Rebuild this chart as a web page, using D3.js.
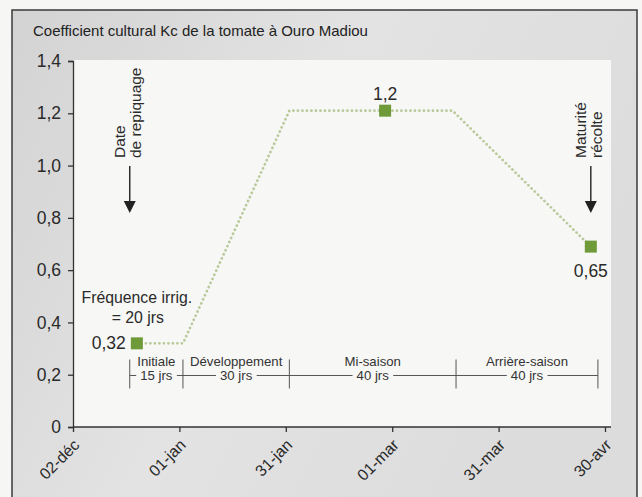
<!DOCTYPE html>
<html>
<head>
<meta charset="utf-8">
<script src="https://cdn.jsdelivr.net/npm/d3@7"></script>
<style>
  body { margin: 0; background: #f6f6f4; }
  svg { display: block; font-family: "Liberation Sans", Arial, sans-serif; }
</style>
</head>
<body>
<svg id="chart" width="642" height="497"></svg>
<script>
// Kc curve (dotted line)
const kcDates = ["2007-12-20", "2008-01-02", "2008-02-01", "2008-03-18", "2008-04-26"];
const kcValues = [0.32, 0.32, 1.21, 1.21, 0.69];

// labelled markers
const markerDates = ["2007-12-20", "2008-02-28", "2008-04-26"];
const markerValues = [0.32, 1.21, 0.69];
const markerLabels = ["0,32", "1,2", "0,65"];

// growth stages
const stageBounds = ["2007-12-18", "2008-01-02", "2008-02-01", "2008-03-19", "2008-04-28"];
const stageNames = ["Initiale", "Développement", "Mi-saison", "Arrière-saison"];
const stageDays = ["15 jrs", "30 jrs", "40 jrs", "40 jrs"];

// axes
const xTickDates = ["2007-12-02", "2008-01-01", "2008-01-31", "2008-03-01", "2008-03-31", "2008-04-30"];
const xTickLabels = ["02-déc", "01-jan", "31-jan", "01-mar", "31-mar", "30-avr"];
const yTickValues = [0, 0.2, 0.4, 0.6, 0.8, 1.0, 1.2, 1.4];
const yTickLabels = ["0", "0,2", "0,4", "0,6", "0,8", "1,0", "1,2", "1,4"];

const title = "Coefficient cultural Kc de la tomate à Ouro Madiou";

const parse = d3.utcParse("%Y-%m-%d");
const svg = d3.select("#chart");
const FONT = "'Liberation Sans', Arial, sans-serif";

var plot = {left: 73, right: 605, top: 61, bottom: 427, areaRight: 611, areaTop: 60};

// background frame
var defs = svg.append("defs");
var grad = defs.append("linearGradient").attr("id", "bg")
  .attr("x1", "0").attr("y1", "0").attr("x2", "1").attr("y2", "0.4");
grad.append("stop").attr("offset", "0").attr("stop-color", "#d3d3d3");
grad.append("stop").attr("offset", "0.5").attr("stop-color", "#e3e3e3");
grad.append("stop").attr("offset", "1").attr("stop-color", "#dcdcdc");

svg.append("rect")
  .attr("x", 12).attr("y", 10).attr("width", 625).attr("height", 495)
  .attr("fill", "url(#bg)")
  .attr("stroke", "#3a3a3a").attr("stroke-width", 1.5);

svg.append("rect")
  .attr("x", plot.left).attr("y", plot.areaTop)
  .attr("width", plot.areaRight - plot.left)
  .attr("height", plot.bottom - plot.areaTop)
  .attr("fill", "#f7f7f5");

svg.append("text")
  .attr("x", 33).attr("y", 36)
  .attr("font-size", 15).attr("fill", "#222")
  .text(title);

// scales
var x = d3.scaleUtc()
  .domain([parse(xTickDates[0]), parse(xTickDates[xTickDates.length - 1])])
  .range([plot.left, plot.right]);
var y = d3.scaleLinear().domain([0, 1.4]).range([plot.bottom, plot.top]);

// y axis
var yAxis = d3.axisLeft(y)
  .tickValues(yTickValues)
  .tickFormat((d, i) => yTickLabels[i])
  .tickSize(5).tickPadding(7);
var gy = svg.append("g")
  .attr("transform", "translate(" + plot.left + ",0)")
  .call(yAxis);
gy.selectAll("text").attr("font-size", 17.5).attr("fill", "#2a2a2a")
  .attr("font-family", FONT);

// x axis
var xAxis = d3.axisBottom(x)
  .tickValues(xTickDates.map(parse))
  .tickFormat((d, i) => xTickLabels[i])
  .tickSize(5).tickSizeOuter(0);
var gx = svg.append("g")
  .attr("transform", "translate(0," + plot.bottom + ")")
  .call(xAxis);
gx.select(".domain").attr("d", "M" + plot.left + ",0H" + plot.areaRight);
gx.selectAll("text")
  .attr("font-size", 16).attr("fill", "#2a2a2a")
  .attr("font-family", FONT)
  .attr("text-anchor", "end")
  .attr("x", 0).attr("y", 0).attr("dy", 0)
  .attr("transform", "translate(7,19) rotate(-45)");
svg.selectAll(".domain, .tick line").attr("stroke", "#333").attr("stroke-width", 1.3);

// stage bar
var stageY = y(0.197);
var stageG = svg.append("g").attr("fill", "#333").attr("font-size", 13.2);
stageG.append("line")
  .attr("x1", x(parse(stageBounds[0]))).attr("x2", x(parse(stageBounds[stageBounds.length - 1])))
  .attr("y1", stageY).attr("y2", stageY)
  .attr("stroke", "#555").attr("stroke-width", 1);
stageG.selectAll("line.sep")
  .data(stageBounds)
  .join("line")
  .attr("class", "sep")
  .attr("x1", d => x(parse(d))).attr("x2", d => x(parse(d)))
  .attr("y1", stageY - 16).attr("y2", stageY + 13)
  .attr("stroke", "#555").attr("stroke-width", 1);
stageNames.forEach(function(name, i) {
  var cx = (x(parse(stageBounds[i])) + x(parse(stageBounds[i + 1]))) / 2;
  var t2 = stageG.append("text")
    .attr("x", cx).attr("y", stageY + 5)
    .attr("text-anchor", "middle")
    .text(stageDays[i]);
  var bb = t2.node().getBBox();
  stageG.insert("rect", "text")
    .attr("x", bb.x - 4).attr("y", stageY - 2)
    .attr("width", bb.width + 8).attr("height", 4)
    .attr("fill", "#f7f7f5");
  stageG.append("text")
    .attr("x", cx).attr("y", stageY - 9)
    .attr("text-anchor", "middle")
    .text(name);
});

// Kc dotted line
var line = d3.line()
  .x((d, i) => x(parse(kcDates[i])))
  .y(d => y(d));
svg.append("path")
  .datum(kcValues)
  .attr("d", line)
  .attr("fill", "none")
  .attr("stroke", "#b8c99a")
  .attr("stroke-width", 2.7)
  .attr("stroke-dasharray", "0.1,4.4")
  .attr("stroke-linecap", "round");

// markers
var ms = 12;
svg.selectAll("rect.marker")
  .data(markerValues)
  .join("rect")
  .attr("class", "marker")
  .attr("x", (d, i) => x(parse(markerDates[i])) - ms / 2)
  .attr("y", d => y(d) - ms / 2)
  .attr("width", ms).attr("height", ms)
  .attr("fill", "#6e9a3a");

var labelPos = [
  {dx: -11, dy: 6, anchor: "end"},
  {dx: 0, dy: -11, anchor: "middle"},
  {dx: 0, dy: 30, anchor: "middle"}
];
svg.selectAll("text.mlabel")
  .data(markerLabels)
  .join("text")
  .attr("class", "mlabel")
  .attr("x", (d, i) => x(parse(markerDates[i])) + labelPos[i].dx)
  .attr("y", (d, i) => y(markerValues[i]) + labelPos[i].dy)
  .attr("text-anchor", (d, i) => labelPos[i].anchor)
  .attr("font-size", 17.5).attr("fill", "#2a2a2a")
  .text(d => d);

// irrigation note
var noteX = x(parse("2007-12-20"));
svg.append("text").attr("x", noteX).attr("y", 303)
  .attr("text-anchor", "middle").attr("font-size", 15.8).attr("fill", "#2a2a2a")
  .text("Fréquence irrig.");
svg.append("text").attr("x", noteX + 1).attr("y", 323)
  .attr("text-anchor", "middle").attr("font-size", 15.8).attr("fill", "#2a2a2a")
  .text("= 20 jrs");

// vertical arrows with rotated text
function arrowNote(date, lines) {
  var ax = x(parse(date));
  var g = svg.append("g");
  lines.forEach(function(t, i) {
    g.append("text")
      .attr("transform", "translate(" + (ax - 5 + i * 16) + ",158) rotate(-90)")
      .attr("font-size", 15.5).attr("fill", "#2a2a2a")
      .text(t);
  });
  g.append("line")
    .attr("x1", ax).attr("x2", ax).attr("y1", 166).attr("y2", 203)
    .attr("stroke", "#222").attr("stroke-width", 1.4);
  g.append("path")
    .attr("d", "M" + (ax - 6) + ",201L" + (ax + 6) + ",201L" + ax + ",213Z")
    .attr("fill", "#222");
}
arrowNote("2007-12-18", ["Date", "de repiquage"]);
arrowNote("2008-04-26", ["Maturité", "récolte"]);
</script>
</body>
</html>
